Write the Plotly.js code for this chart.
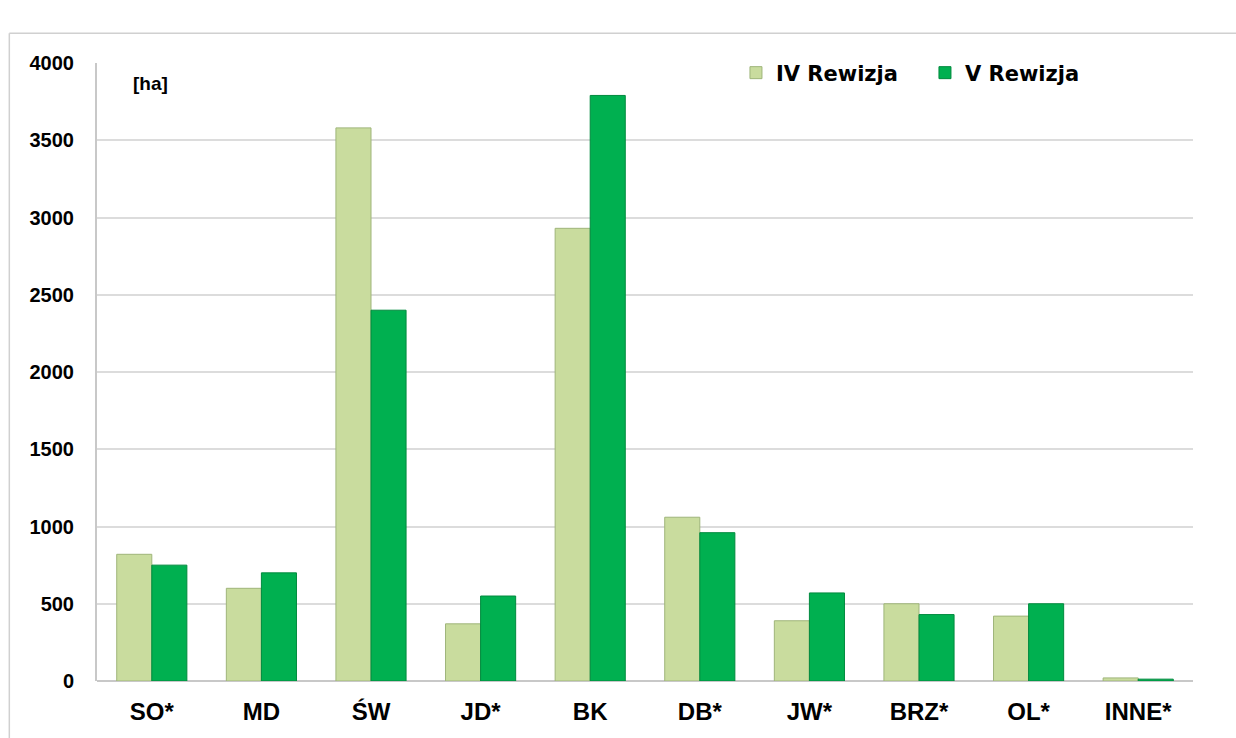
<!DOCTYPE html>
<html>
<head>
<meta charset="utf-8">
<script src="https://cdn.plot.ly/plotly-3.0.1.min.js"></script>
<style>html,body{margin:0;padding:0;background:#fff;}#chart{width:1236px;height:738px;}</style>
</head>
<body>
<div id="chart"></div>
<script>
const categories = ["SO*", "MD", "ŚW", "JD*", "BK", "DB*", "JW*", "BRZ*", "OL*", "INNE*"];
const rewizjaIV = [820, 600, 3580, 370, 2930, 1060, 390, 500, 420, 20];
const rewizjaV = [750, 700, 2400, 550, 3790, 960, 570, 430, 500, 12];
const seriesNames = ["IV Rewizja", "V Rewizja"];
const yTicks = [0, 500, 1000, 1500, 2000, 2500, 3000, 3500, 4000];

const font = "Liberation Sans, Arial, sans-serif";
const wideFont = "DejaVu Sans, Liberation Sans, sans-serif";

const traces = [
  {
    type: "bar", name: seriesNames[0], x: categories, y: rewizjaIV,
    marker: {color: "#c9dc9e", line: {color: "#9fb57a", width: 1}},
    hoverinfo: "x+y"
  },
  {
    type: "bar", name: seriesNames[1], x: categories, y: rewizjaV,
    marker: {color: "#00b050", line: {color: "#008a3e", width: 1}},
    hoverinfo: "x+y"
  }
];

const layout = {
  width: 1236, height: 738,
  margin: {l: 97, r: 43, t: 63, b: 57},
  paper_bgcolor: "#ffffff", plot_bgcolor: "#ffffff",
  barmode: "group", bargap: 0.36, bargroupgap: 0,
  font: {family: font, color: "#000"},
  xaxis: {
    showgrid: false, showline: false, ticks: "",
    tickfont: {family: font, size: 24, color: "#000", weight: "bold"},
    ticklabelstandoff: 14
  },
  yaxis: {
    range: [0, 4000], tickvals: yTicks, ticktext: yTicks.map(String),
    showgrid: true, gridcolor: "#dcdcdc", gridwidth: 2,
    zeroline: true, zerolinecolor: "#c8c8c8", zerolinewidth: 2,
    showline: true, linecolor: "#c8c8c8", linewidth: 2,
    ticks: "", ticklabelstandoff: 17,
    tickfont: {family: font, size: 20, color: "#000", weight: "bold"}
  },
  legend: {
    orientation: "h", x: 0.583, y: 1.017, xanchor: "left", yanchor: "top",
    font: {family: wideFont, size: 21, color: "#000", weight: "bold"},
    bgcolor: "rgba(0,0,0,0)", itemwidth: 30, entrywidth: 144
  },
  annotations: [
    {text: "[ha]", xref: "paper", yref: "paper", x: 0.031, y: 0.987,
     xanchor: "left", yanchor: "top", showarrow: false,
     font: {family: font, size: 19, color: "#000", weight: "bold"}}
  ],
  shapes: [
    {type: "line", xref: "paper", yref: "paper", x0: -0.08, x1: -0.08, y0: 1.048, y1: -0.2,
     line: {color: "#d0d0d0", width: 1.5}},
    {type: "line", xref: "paper", yref: "paper", x0: -0.08, x1: 1.1, y0: 1.048, y1: 1.048,
     line: {color: "#d0d0d0", width: 1.5}}
  ],
  showlegend: true
};

Plotly.newPlot("chart", traces, layout, {displayModeBar: false, staticPlot: true});
</script>
</body>
</html>
